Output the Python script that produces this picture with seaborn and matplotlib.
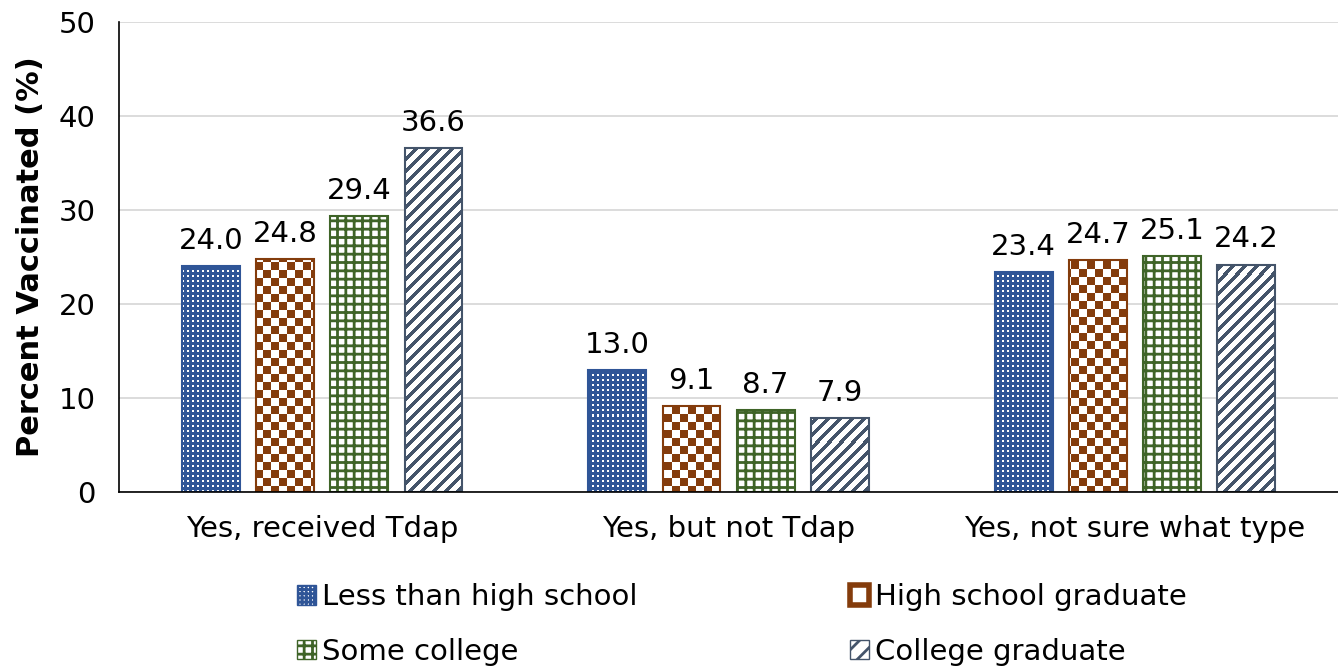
import numpy as np
import pandas as pd
import matplotlib
matplotlib.use('Agg')
import matplotlib.pyplot as plt
from matplotlib.colors import ListedColormap
import seaborn as sns

# data
categories = ['Yes, received Tdap', 'Yes, but not Tdap', 'Yes, not sure what type']
education = ['Less than high school', 'High school graduate', 'Some college', 'College graduate']
less_hs = [24.0, 13.0, 23.4]
hs_grad = [24.8, 9.1, 24.7]
some_college = [29.4, 8.7, 25.1]
college_grad = [36.6, 7.9, 24.2]

colors = ['#2F5597', '#843C0C', '#3F6428', '#44546A']
# None -> drawn with a texture image instead of a hatch
hatches = [None, None, '++', None]

rows = []
for edu, vals in zip(education, [less_hs, hs_grad, some_college, college_grad]):
    for cat, v in zip(categories, vals):
        rows.append({'category': cat, 'education': edu, 'value': v})
df = pd.DataFrame(rows)

sns.set_style('white')
plt.rcParams['font.family'] = ['DejaVu Sans']
plt.rcParams['text.color'] = 'black'
plt.rcParams['xtick.color'] = 'black'
plt.rcParams['ytick.color'] = 'black'
plt.rcParams['axes.labelcolor'] = 'black'
plt.rcParams['hatch.linewidth'] = 2.0

fs = 21

fig = plt.figure(figsize=(13.38, 6.71), dpi=100)
ax = fig.add_axes([0.089, 0.267, 0.911, 0.700])

sns.barplot(data=df, x='category', y='value', hue='education', hue_order=education,
            order=categories, palette=colors, width=0.73, gap=0.22, ax=ax,
            legend=True, err_kws={'linewidth': 0})

ax.set_ylim(0, 50)
ax.set_xlim(-0.5, 2.5)

# textures at screen-pixel scale (axes is ~1219 x 470 px)
W, H = 1219, 470
yy, xx = np.mgrid[0:H, 0:W]
dots = (((xx % 5) >= 3) & ((yy % 5) >= 3)).astype(float)       # blue with small white dots
checker = (((xx // 8) + (yy // 8)) % 2).astype(float)           # brown checkerboard
stripes = (((xx + yy) % 12) < 5).astype(float)                   # slate diagonal stripes
textures = {0: dots, 1: checker, 3: stripes}
tex_cmaps = {0: ListedColormap([colors[0], 'white']),
             1: ListedColormap(['white', colors[1]]),
             3: ListedColormap(['white', colors[3]])}

for i, (cont, col, h) in enumerate(zip(ax.containers, colors, hatches)):
    for bar in cont:
        bar.set_edgecolor(col)
        bar.set_linewidth(1.5)
        bar.set_facecolor('white')
        if h is None:
            im = ax.imshow(textures[i], extent=(-0.5, 2.5, 0, 50), cmap=tex_cmaps[i],
                           interpolation='nearest', aspect='auto', vmin=0, vmax=1,
                           zorder=bar.get_zorder() - 0.01)
            im.set_clip_path(bar)
            bar.set_facecolor('none')
        else:
            bar.set_hatch(h)
    ax.bar_label(cont, fmt='%.1f', padding=8, fontsize=fs)

ax.set_xlim(-0.5, 2.5)
ax.set_ylim(0, 50)
ax.set_yticks(range(0, 51, 10))
ax.yaxis.grid(True, color='#D9D9D9', linewidth=1.3)
ax.set_axisbelow(True)
for s in ['top', 'right']:
    ax.spines[s].set_visible(False)
for s in ['left', 'bottom']:
    ax.spines[s].set_color('black')
    ax.spines[s].set_linewidth(1.2)
ax.tick_params(axis='both', labelsize=fs, length=0, pad=17)
ax.set_xlabel('')
ax.set_ylabel('Percent Vaccinated (%)', fontsize=22, fontweight='bold', labelpad=10)

handles, labels = ax.get_legend_handles_labels()
leg_hatch = ['++++', None, '++', '//']
for hd, col, h in zip(handles, colors, leg_hatch):
    hd.set_facecolor('white')
    hd.set_edgecolor(col)
    if h is None:
        hd.set_linewidth(4)
    else:
        hd.set_hatch(h)
order = [0, 2, 1, 3]
ax.legend([handles[k] for k in order], [labels[k] for k in order],
          loc='upper center', bbox_to_anchor=(0.511, -0.139), ncol=2,
          frameon=False, fontsize=fs, handlelength=0.65, handleheight=0.65,
          handletextpad=0.2, columnspacing=7.3, labelspacing=0.9)

fig.savefig('out.png', dpi=100)
